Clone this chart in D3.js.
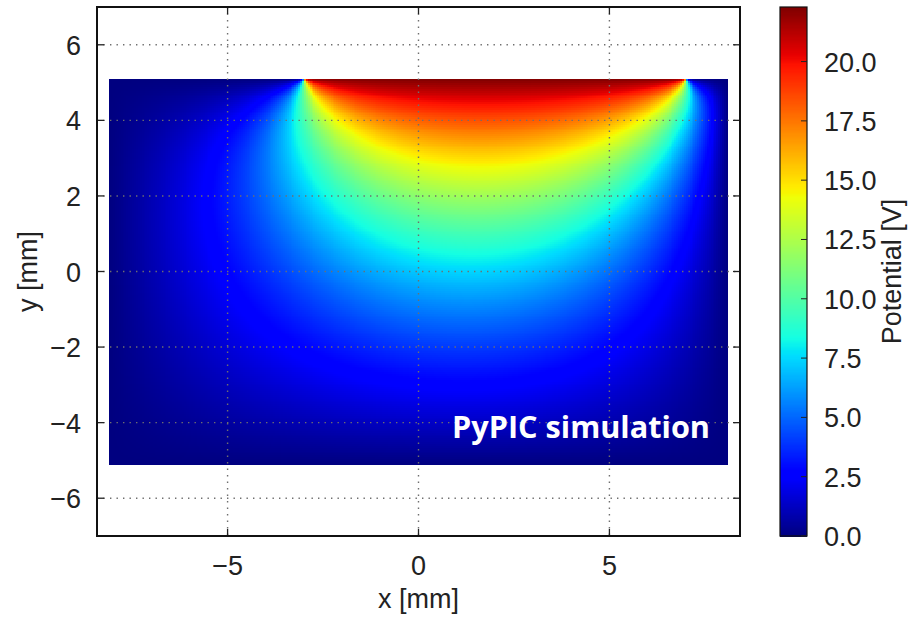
<!DOCTYPE html>
<html>
<head>
<meta charset="utf-8">
<title>PyPIC potential</title>
<script src="https://cdn.jsdelivr.net/npm/d3@7"></script>
<style>
  body { margin: 0; background: #fff; }
  text { font-family: "Liberation Sans", Arial, sans-serif; fill: #222; }
</style>
</head>
<body>
<div id="chart"></div>
<script>
// geometry of the simulated box and the electrode
var boxX = [-8.1, 8.1];
var boxY = [-5.1, 5.1];
var electrodeX = [-3, 7];
var electrodeV = 22.3;
var cellSize = 0.05;

var xTicks = [-5, 0, 5];
var yTicks = [-6, -4, -2, 0, 2, 4, 6];
var cbTicks = [0, 2.5, 5, 7.5, 10, 12.5, 15, 17.5, 20];
var cbMax = 22.3;

// jet colormap channels
var jetR = [[0, 0], [0.35, 0], [0.66, 1], [0.89, 1], [1, 0.5]];
var jetG = [[0, 0], [0.125, 0], [0.375, 1], [0.64, 1], [0.91, 0], [1, 0]];
var jetB = [[0, 0.5], [0.11, 1], [0.34, 1], [0.65, 0], [1, 0]];

var W = 914, Hh = 618;
var plot = {left: 97, right: 740, top: 7, bottom: 536};

var svg = d3.select("#chart").append("svg")
    .attr("width", W)
    .attr("height", Hh);

var x = d3.scaleLinear().domain([-8.42, 8.42]).range([plot.left, plot.right]);
var y = d3.scaleLinear().domain([-7, 7]).range([plot.bottom, plot.top]);

function chan(stops) {
  return d3.scaleLinear().domain(stops.map(function(d){return d[0];}))
      .range(stops.map(function(d){return d[1];})).clamp(true);
}
var cr = chan(jetR), cg = chan(jetG), cb = chan(jetB);
var norm = d3.scaleLinear().domain([0, cbMax]).range([0, 1]).clamp(true);
function jet(v) {
  var t = norm(v);
  return d3.rgb(cr(t) * 255, cg(t) * 255, cb(t) * 255).formatHex();
}

// Laplace solution in the box, grounded walls, electrode on top
var Lx = boxX[1] - boxX[0], Ly = boxY[1] - boxY[0];
var nx = Math.round(Lx / cellSize), ny = Math.round(Ly / cellSize);
var nTerms = 1000;
var coef = new Float64Array(nTerms + 1);
for (var n = 1; n <= nTerms; n++) {
  var k = n * Math.PI / Lx;
  coef[n] = 2 * electrodeV / (n * Math.PI) *
    (Math.cos(k * (electrodeX[0] - boxX[0])) - Math.cos(k * (electrodeX[1] - boxX[0])));
}
var xs = d3.range(nx).map(function(i){ return boxX[0] + (i + 0.5) * cellSize; });
var ys = d3.range(ny).map(function(j){ return boxY[0] + (j + 0.5) * cellSize; });
var sx = xs.map(function(xv) {
  var a = new Float64Array(nTerms + 1);
  for (var n = 1; n <= nTerms; n++) a[n] = coef[n] * Math.sin(n * Math.PI * (xv - boxX[0]) / Lx);
  return a;
});
var fy = ys.map(function(yv) {
  var a = new Float64Array(nTerms + 1);
  for (var n = 1; n <= nTerms; n++) {
    var k = n * Math.PI / Lx;
    a[n] = Math.exp(k * (yv - boxY[1])) * (1 - Math.exp(-2 * k * (yv - boxY[0]))) / (1 - Math.exp(-2 * k * Ly));
  }
  return a;
});
var cells = [];
for (var i = 0; i < nx; i++) {
  for (var j = 0; j < ny; j++) {
    var s = 0, A = sx[i], B = fy[j];
    for (var n = 1; n <= nTerms; n++) {
      if (B[n] < 1e-12) break;
      s += A[n] * B[n];
    }
    cells.push({x: xs[i], y: ys[j], v: Math.max(0, s)});
  }
}

var cw = x(cellSize) - x(0), ch = y(0) - y(cellSize);
svg.append("g").attr("shape-rendering", "crispEdges")
  .selectAll("rect").data(cells).enter().append("rect")
    .attr("x", function(d){ return x(d.x - cellSize / 2); })
    .attr("y", function(d){ return y(d.y + cellSize / 2); })
    .attr("width", cw + 0.6)
    .attr("height", ch + 0.6)
    .attr("fill", function(d){ return jet(d.v); });

// dotted grid over the map
var grid = svg.append("g").attr("stroke", "#6f6f6f").attr("stroke-width", 1.4)
    .attr("stroke-dasharray", "1.4,5.1");
grid.selectAll(".gx").data(xTicks).enter().append("line")
    .attr("x1", x).attr("x2", x).attr("y1", plot.top).attr("y2", plot.bottom);
grid.selectAll(".gy").data(yTicks).enter().append("line")
    .attr("y1", y).attr("y2", y).attr("x1", plot.left).attr("x2", plot.right);

// inward ticks
var tk = svg.append("g").attr("stroke", "#222").attr("stroke-width", 1.3);
xTicks.forEach(function(t) {
  tk.append("line").attr("x1", x(t)).attr("x2", x(t)).attr("y1", plot.bottom).attr("y2", plot.bottom - 7);
  tk.append("line").attr("x1", x(t)).attr("x2", x(t)).attr("y1", plot.top).attr("y2", plot.top + 7);
});
yTicks.forEach(function(t) {
  tk.append("line").attr("y1", y(t)).attr("y2", y(t)).attr("x1", plot.left).attr("x2", plot.left + 7);
  tk.append("line").attr("y1", y(t)).attr("y2", y(t)).attr("x1", plot.right).attr("x2", plot.right - 7);
});

svg.append("rect")
    .attr("x", plot.left).attr("y", plot.top)
    .attr("width", plot.right - plot.left).attr("height", plot.bottom - plot.top)
    .attr("fill", "none").attr("stroke", "#111").attr("stroke-width", 2);

var fmt = d3.format("d");
svg.append("g").selectAll("text").data(xTicks).enter().append("text")
    .attr("x", x).attr("y", 575)
    .attr("text-anchor", "middle").attr("font-size", 27)
    .text(function(d){ return fmt(d); });
svg.append("g").selectAll("text").data(yTicks).enter().append("text")
    .attr("x", 81).attr("y", function(d){ return y(d) + 10; })
    .attr("text-anchor", "end").attr("font-size", 27)
    .text(function(d){ return fmt(d); });

svg.append("text").attr("x", (plot.left + plot.right) / 2).attr("y", 608)
    .attr("text-anchor", "middle").attr("font-size", 27).text("x [mm]");
svg.append("text")
    .attr("transform", "translate(37," + ((plot.top + plot.bottom) / 2) + ") rotate(-90)")
    .attr("text-anchor", "middle").attr("font-size", 27).text("y [mm]");

svg.append("text").attr("x", 710).attr("y", 438)
    .attr("text-anchor", "end")
    .style("font-family", "'Open Sans', sans-serif").style("fill", "#fff")
    .attr("font-weight", 700).attr("font-size", 30)
    .attr("textLength", 258).attr("lengthAdjust", "spacingAndGlyphs")
    .text("PyPIC simulation");

// colorbar
var cbX = 780, cbW = 27;
var cy = d3.scaleLinear().domain([0, cbMax]).range([plot.bottom, plot.top]);
var cbStep = 0.05;
svg.append("g").attr("shape-rendering", "crispEdges")
  .selectAll("rect").data(d3.range(0, cbMax, cbStep)).enter().append("rect")
    .attr("x", cbX).attr("width", cbW)
    .attr("y", function(d){ return cy(Math.min(d + cbStep, cbMax)); })
    .attr("height", function(d){ return cy(d) - cy(Math.min(d + cbStep, cbMax)) + 0.5; })
    .attr("fill", function(d){ return jet(d + cbStep / 2); });
svg.append("rect").attr("x", cbX).attr("y", plot.top)
    .attr("width", cbW).attr("height", plot.bottom - plot.top)
    .attr("fill", "none").attr("stroke", "#111").attr("stroke-width", 1.2);
svg.append("g").attr("stroke", "#222").selectAll("line").data(cbTicks).enter().append("line")
    .attr("x1", cbX + cbW - 6).attr("x2", cbX + cbW)
    .attr("y1", cy).attr("y2", cy);
svg.append("g").selectAll("text").data(cbTicks).enter().append("text")
    .attr("x", 824).attr("y", function(d){ return cy(d) + 10; })
    .attr("font-size", 27)
    .text(function(d){ return d3.format(".1f")(d); });
svg.append("text")
    .attr("transform", "translate(901," + ((plot.top + plot.bottom) / 2) + ") rotate(-90)")
    .attr("text-anchor", "middle").attr("font-size", 27).text("Potential [V]");
</script>
</body>
</html>
